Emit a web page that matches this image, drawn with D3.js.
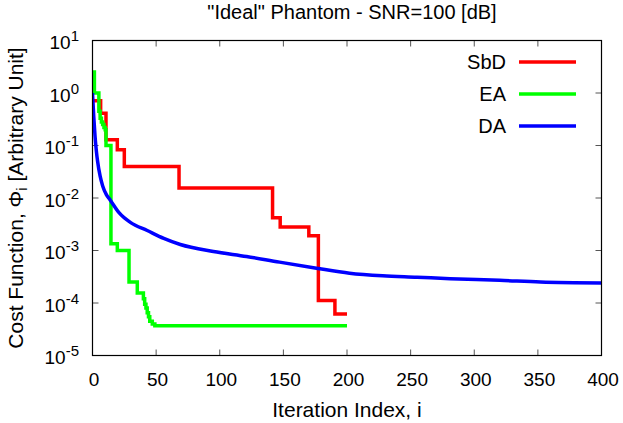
<!DOCTYPE html>
<html>
<head>
<meta charset="utf-8">
<script src="https://cdn.jsdelivr.net/npm/d3@7"></script>
<style>
  html, body { margin: 0; padding: 0; background: #fff; }
  svg text { font-family: "Liberation Sans", Arial, sans-serif; fill: #000; }
</style>
</head>
<body>
<svg id="chart" width="623" height="423"></svg>
<script>
// ---- data ----
const titleText = "\"Ideal\" Phantom - SNR=100 [dB]";
const xLabel = "Iteration Index, i";
const xTicks = [0, 50, 100, 150, 200, 250, 300, 350, 400];
const yTickExponents = [1, 0, -1, -2, -3, -4, -5];
const seriesNames = ["SbD", "EA", "DA"];
const seriesColors = ["#ff0000", "#00ff00", "#0000ff"];

// SbD (step changes: iteration, value)
const sbdIter  = [0, 6.4, 10.6, 19.5, 25, 68, 141.5, 147.5, 170, 177.5, 190.5, 200];
const sbdValue = [0.71, 0.41, 0.128, 0.083, 0.040, 0.0155, 0.0042, 0.0028, 0.0019, 1.12e-4, 6.2e-5, 6.2e-5];

// EA (step changes)
const eaIter  = [0, 1.5, 5, 6, 7, 8, 9, 10, 10.6, 14.5, 19.5, 28.7, 35.2, 40, 41, 42, 43, 44, 45, 47, 49, 200];
const eaValue = [2.5, 1.0, 0.45, 0.33, 0.28, 0.25, 0.22, 0.2, 0.1, 1.35e-3, 1.0e-3, 2.5e-4, 1.55e-4, 1.2e-4, 9.5e-5, 8e-5, 6.5e-5, 5.5e-5, 4.5e-5, 4e-5, 3.7e-5, 3.7e-5];

// DA (smooth)
const daIter  = [0, 1, 2, 3, 4, 6, 8, 11, 14, 21, 30, 43, 56, 69, 95, 121, 147, 176, 202, 228, 255, 281, 320, 352, 400];
const daValue = [1.0, 0.35, 0.15, 0.08, 0.05, 0.026, 0.017, 0.0115, 0.0091, 0.0052, 0.0034, 0.0024, 0.0017, 0.0013, 9.6e-4, 7.7e-4, 6.0e-4, 4.6e-4, 3.7e-4, 3.3e-4, 3.1e-4, 2.9e-4, 2.7e-4, 2.5e-4, 2.4e-4];

// ---- layout ----
const svg = d3.select("#chart");
const L = 92.5, R = 601.5, T = 40.5, B = 355.5;
const x = d3.scaleLinear().domain([0, 400]).range([L, R]);
const y = d3.scaleLog().domain([1e-5, 10]).range([B, T]);

const zip = (a, b) => a.map((v, i) => [v, b[i]]);
const series = [
  { name: seriesNames[0], color: seriesColors[0], data: zip(sbdIter, sbdValue), curve: d3.curveStepAfter },
  { name: seriesNames[1], color: seriesColors[1], data: zip(eaIter, eaValue), curve: d3.curveStepAfter },
  { name: seriesNames[2], color: seriesColors[2], data: zip(daIter, daValue), curve: d3.curveMonotoneX }
];

// ticks (inward, mirrored)
const tickLen = 6;
const tickColor = "#555";
const g = svg.append("g");
xTicks.forEach(t => {
  if (t === 0 || t === 400) return;
  g.append("line").attr("x1", x(t)).attr("x2", x(t)).attr("y1", B).attr("y2", B - tickLen).attr("stroke", tickColor);
  g.append("line").attr("x1", x(t)).attr("x2", x(t)).attr("y1", T).attr("y2", T + tickLen).attr("stroke", tickColor);
});
yTickExponents.forEach(e => {
  const v = Math.pow(10, e);
  if (e === 1 || e === -5) return;
  g.append("line").attr("x1", L).attr("x2", L + tickLen).attr("y1", y(v)).attr("y2", y(v)).attr("stroke", tickColor);
  g.append("line").attr("x1", R).attr("x2", R - tickLen).attr("y1", y(v)).attr("y2", y(v)).attr("stroke", tickColor);
});

// x tick labels
xTicks.forEach(t => {
  svg.append("text").attr("x", x(t) + 1.5).attr("y", 386).attr("text-anchor", "middle")
    .attr("font-size", 19).text(t);
});
// y tick labels
yTickExponents.forEach(e => {
  const tx = svg.append("text").attr("x", 79).attr("y", y(Math.pow(10, e)) + 8.5)
    .attr("text-anchor", "end").attr("font-size", 19);
  tx.append("tspan").text("10");
  tx.append("tspan").attr("font-size", 15).attr("dy", -8).text(e < 0 ? "-" + (-e) : String(e));
});

// clip
svg.append("clipPath").attr("id", "clip").append("rect")
  .attr("x", L).attr("y", T).attr("width", R - L).attr("height", B - T);

// lines
series.forEach(s => {
  const line = d3.line().x(d => x(d[0])).y(d => y(d[1])).curve(s.curve);
  svg.append("path").datum(s.data).attr("d", line)
    .attr("fill", "none").attr("stroke", s.color).attr("stroke-width", 3.5)
    .attr("stroke-linejoin", "miter").attr("clip-path", "url(#clip)");
});

// frame
svg.append("rect").attr("x", L).attr("y", T).attr("width", R - L).attr("height", B - T)
  .attr("fill", "none").attr("stroke", "#000").attr("stroke-width", 1.2);

// legend
series.forEach((s, i) => {
  const ly = 62 + i * 32;
  svg.append("text").attr("x", 506).attr("y", ly + 7).attr("text-anchor", "end")
    .attr("font-size", 20).text(s.name);
  svg.append("line").attr("x1", 519).attr("x2", 576).attr("y1", ly).attr("y2", ly)
    .attr("stroke", s.color).attr("stroke-width", 3.5);
});

// title
svg.append("text").attr("x", 352).attr("y", 19).attr("text-anchor", "middle")
  .attr("font-size", 20).text(titleText);

// x label
svg.append("text").attr("x", 347).attr("y", 417).attr("text-anchor", "middle")
  .attr("font-size", 21).text(xLabel);

// y label
const yl = svg.append("text").attr("transform", `translate(23,198) rotate(-90)`)
  .attr("text-anchor", "middle").attr("font-size", 21);
yl.append("tspan").text("Cost Function, \u03A6");
yl.append("tspan").attr("font-size", 15).attr("dy", 4).text("i");
yl.append("tspan").attr("dy", -4).text(" [Arbitrary Unit]");
</script>
</body>
</html>
